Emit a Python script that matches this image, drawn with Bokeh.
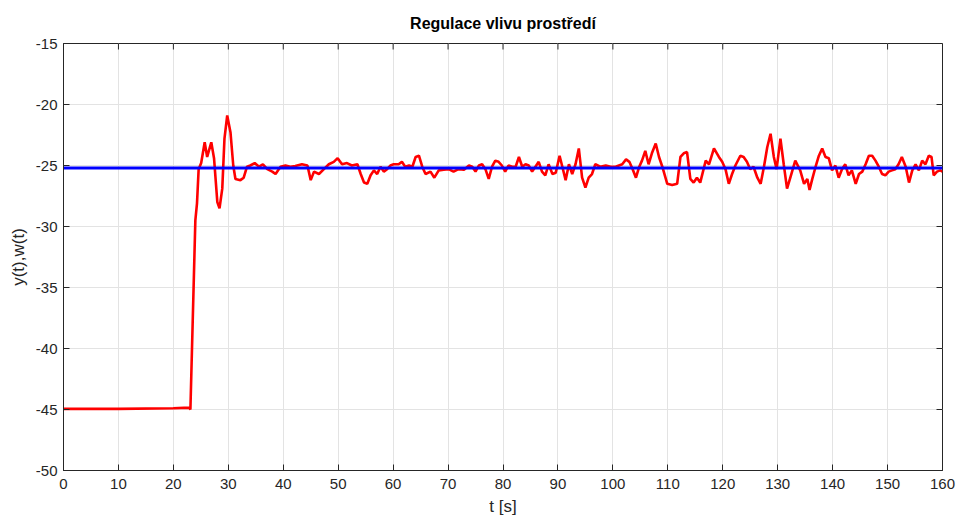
from bokeh.plotting import figure
from bokeh.models import FixedTicker, Range1d
from bokeh.embed import file_html
from bokeh.resources import INLINE

# ---- data ----
t = [0, 10, 20, 22.9, 23.1, 24.0, 24.3, 24.6, 25.06, 25.7, 26.15, 26.9, 27.4, 28.0, 28.4,
     28.9, 29.3, 29.8, 30.4, 30.9, 31.3, 32.2, 32.8, 33.4, 34.0, 34.8, 35.6, 36.3, 37.1,
     38.0, 38.6, 39.5, 40.4, 41.3, 42.2, 43.4, 44.4, 45.0, 45.6, 46.5, 47.4, 48.3, 49.2,
     49.9, 50.7, 51.6, 52.5, 53.5, 54.1, 54.7, 55.3, 55.9, 56.5, 57.1, 57.7, 58.3, 58.9,
     59.5, 60.1, 61.0, 61.6, 62.2, 62.9, 63.5, 64.1, 64.7, 65.3, 65.9, 66.8, 67.5, 68.3,
     69.2, 70.1, 71.0, 71.9, 72.9, 73.8, 74.4, 75.0, 75.6, 76.2, 76.8, 77.4, 78.0, 78.6,
     79.2, 79.8, 80.4, 81.0, 81.7, 82.3, 82.9, 83.5, 84.1, 84.7, 85.3, 85.9, 86.5, 87.1,
     87.7, 88.3, 89.0, 89.6, 90.3, 90.8, 91.4, 92.0, 92.6, 93.2, 93.8, 94.4, 95.0, 95.6,
     96.2, 96.8, 97.7, 98.7, 99.6, 100.5, 101.1, 101.7, 102.4, 103.0, 103.6, 104.2, 104.8,
     105.3, 105.9, 106.5, 107.1, 107.8, 108.4, 109.0, 109.9, 110.8, 111.7, 112.3, 112.9,
     113.5, 114.1, 114.7, 115.3, 115.9, 116.9, 117.5, 118.4, 119.3, 119.9, 120.5, 121.1,
     121.7, 122.3, 123.2, 123.8, 124.4, 125.0, 125.6, 126.3, 126.9, 127.5, 128.1, 128.7,
     129.3, 129.8, 130.5, 131.1, 131.7, 132.3, 133.2, 134.1, 134.8, 135.4, 135.8, 136.3,
     136.9, 137.5, 138.1, 138.7, 139.3, 139.9, 140.5, 141.1, 141.7, 142.3, 142.9, 143.5,
     144.2, 144.8, 145.4, 146.0, 146.6, 147.2, 147.8, 148.4, 149.0, 149.6, 150.2, 150.8,
     151.4, 152.0, 152.6, 153.3, 153.9, 154.5, 155.1, 155.7, 156.3, 156.9, 157.5, 158.0,
     158.4, 159.0, 159.6, 160.0]
y = [-44.95, -44.95, -44.9, -44.85, -45.0, -29.5, -28.1, -25.3, -24.8, -23.1, -24.3, -23.1,
     -24.4, -28.0, -28.5, -26.9, -22.8, -20.9, -22.3, -25.0, -26.1, -26.2, -26.0, -25.1,
     -25.0, -24.8, -25.1, -24.9, -25.3, -25.5, -25.7, -25.1, -25.0, -25.1, -25.05, -24.9,
     -25.0, -26.2, -25.5, -25.7, -25.3, -24.9, -24.7, -24.4, -24.9, -24.8, -25.0, -24.9,
     -25.7, -26.4, -26.5, -25.8, -25.4, -25.7, -25.1, -25.5, -25.3, -25.0, -24.9, -24.9,
     -24.7, -25.1, -25.0, -25.1, -24.3, -24.2, -25.1, -25.7, -25.5, -26.0, -25.4, -25.35,
     -25.3, -25.5, -25.3, -25.35, -25.0, -25.1, -25.5, -25.0, -24.9, -25.3, -26.1, -25.1,
     -24.6, -24.7, -25.0, -25.5, -25.0, -25.1, -25.1, -24.3, -25.1, -24.9, -25.0, -25.5,
     -25.1, -24.7, -25.5, -25.8, -24.9, -25.7, -25.6, -24.2, -25.1, -26.2, -24.9, -25.7,
     -24.9, -23.6, -26.0, -26.8, -26.0, -25.7, -24.9, -25.1, -25.0, -25.1, -25.1, -25.0,
     -24.9, -24.5, -24.7, -25.3, -26.0, -25.1, -24.6, -23.8, -24.9, -24.0, -23.2, -24.3,
     -25.1, -26.5, -26.6, -26.5, -24.3, -24.0, -23.9, -26.1, -26.4, -26.0, -26.4, -24.6,
     -24.9, -23.6, -24.3, -24.7, -25.3, -26.5, -25.7, -25.0, -24.2, -24.3, -24.7, -25.3,
     -25.1, -26.0, -26.5, -25.1, -23.5, -22.4, -24.3, -25.3, -22.8, -24.9, -26.9, -26.0,
     -24.6, -25.4, -26.5, -26.1, -27.0, -26.1, -25.1, -24.2, -23.6, -24.3, -24.4, -25.4,
     -25.0, -26.0, -25.3, -24.9, -25.8, -25.4, -26.5, -25.7, -25.5, -24.9, -24.2, -24.2,
     -24.6, -25.1, -25.7, -25.8, -25.5, -25.4, -25.3, -24.9, -24.3, -25.1, -26.4, -25.4,
     -24.9, -25.4, -24.6, -24.9, -24.2, -24.3, -25.8, -25.5, -25.4, -25.5]
w_t = [0, 160]
w = [-25.2, -25.2]

x_ticks = list(range(0, 161, 10))
y_ticks = list(range(-50, -14, 5))
x_tick_labels = {v: str(v) for v in x_ticks}
y_tick_labels = {v: str(v) for v in y_ticks}   # plain hyphen-minus like the reference

FONT = "Liberation Sans"
DARK = "#262626"
X0, X1, Y0, Y1 = 0, 160, -50, -15

p = figure(width=957, height=522, output_backend="svg", toolbar_location=None,
           x_range=Range1d(X0, X1), y_range=Range1d(Y0, Y1),
           min_border_left=63, min_border_right=15, min_border_top=43, min_border_bottom=52,
           background_fill_color="white", border_fill_color="white")

p.title.text = "Regulace vlivu prostředí"
p.title.align = "center"
p.title.text_font = FONT
p.title.text_font_size = "16px"
p.title.text_font_style = "bold"
p.title.text_color = "black"
p.title.standoff = 23

p.line(t, y, line_color="#ff0000", line_width=2.6)
p.line(w_t, w, line_color="#0000ff", line_width=3)

for ax in (p.xaxis[0], p.yaxis[0]):
    ax.major_tick_in = 6
    ax.major_tick_out = 0
    ax.minor_tick_line_color = None
    ax.axis_line_color = DARK
    ax.major_tick_line_color = DARK
    ax.major_label_text_color = DARK
    ax.major_label_text_font = FONT
    ax.major_label_text_font_size = "15px"
    ax.axis_label_text_font = FONT
    ax.axis_label_text_font_size = "17px"
    ax.axis_label_text_font_style = "normal"
    ax.axis_label_text_color = DARK

p.xaxis.ticker = FixedTicker(ticks=x_ticks)
p.yaxis.ticker = FixedTicker(ticks=y_ticks)
p.xaxis.major_label_overrides = x_tick_labels
p.yaxis.major_label_overrides = y_tick_labels
p.xaxis.axis_label = "t [s]"
p.yaxis.axis_label = "y(t),w(t)"
p.xaxis.major_label_standoff = 8
p.yaxis.major_label_standoff = 6

# inward ticks on the top and right edges of the box (MATLAB style)
tick_len_y = 6 * (Y1 - Y0) / 427.0
tick_len_x = 6 * (X1 - X0) / 879.0
p.segment(x0=x_ticks, y0=[Y1] * len(x_ticks), x1=x_ticks, y1=[Y1 - tick_len_y] * len(x_ticks),
          line_color=DARK, line_width=1)
p.segment(x0=[X1] * len(y_ticks), y0=y_ticks, x1=[X1 - tick_len_x] * len(y_ticks), y1=y_ticks,
          line_color=DARK, line_width=1)

p.xgrid.ticker = FixedTicker(ticks=x_ticks)
p.ygrid.ticker = FixedTicker(ticks=y_ticks)
p.grid.grid_line_color = "#e3e3e3"
p.grid.grid_line_width = 1
p.outline_line_color = DARK

open("out.html", "w").write(file_html(p, INLINE))
